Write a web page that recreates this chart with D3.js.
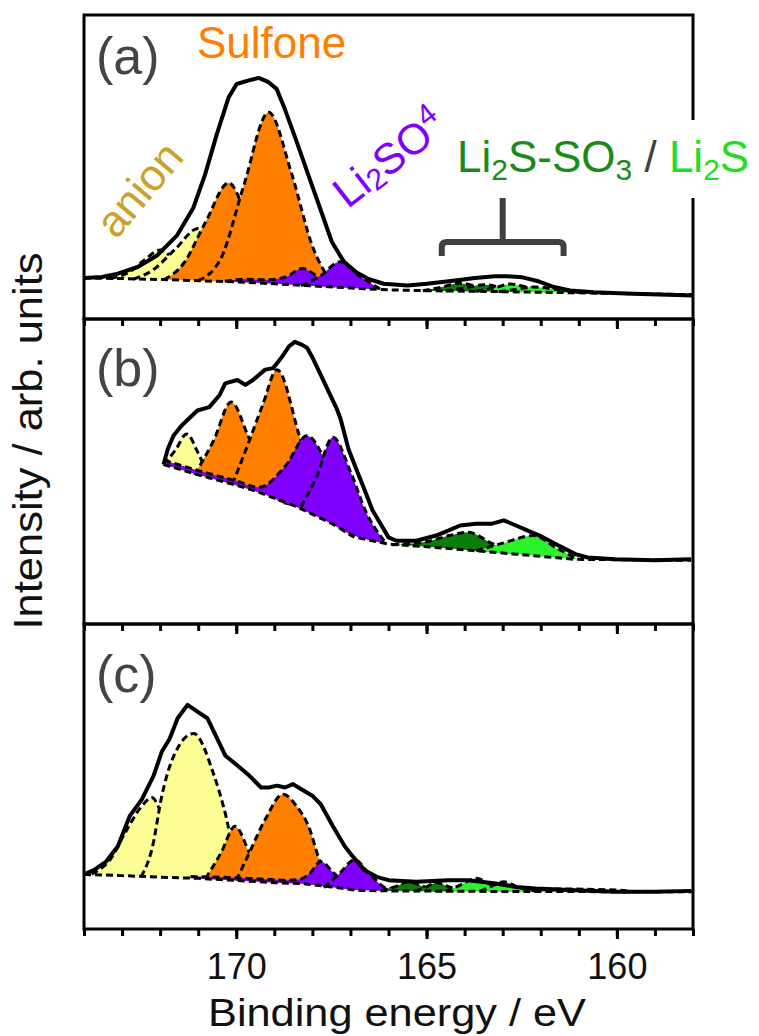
<!DOCTYPE html>
<html>
<head>
<meta charset="utf-8">
<script src="https://cdn.jsdelivr.net/npm/d3@7"></script>
<style>
  body { margin: 0; background: white; }
  svg text { font-family: "Liberation Sans", Arial, sans-serif; }
</style>
</head>
<body>
<svg id="chart" width="759" height="1036"></svg>
<script>
// ---- data (binding energy in eV, intensity in arb. units, 0..100 per panel) ----
var majorTicks = [170, 165, 160];
var minorTicks = d3.range(158, 175, 1);

// panel (a)
var envA = [[174,13.5],[173.53,13.8],[173.11,14.9],[172.59,17.1],[172.07,21.0],[171.55,27.6],[171.13,36.5],[170.82,47.5],[170.51,60.8],[170.2,72.9],[169.99,77.3],[169.67,78.5],[169.41,79.3],[169.15,77.9],[168.94,75.7],[168.74,69.6],[168.42,58.6],[168.11,47.5],[167.8,36.5],[167.49,25.4],[167.17,18.8],[166.86,15.5],[166.55,13.3],[166.13,11.6],[165.5,11.0],[164.99,11.6],[164.25,12.7],[163.73,13.5],[163.21,14.1],[162.9,14.1],[162.48,13.7],[162.06,12.4],[161.65,10.5],[161.23,9.4],[160.61,8.8],[159.57,8.3],[158,7.7]];
var bgA = [[174,13.5],[173,13.3],[172,13.0],[171,12.6],[170,12.2],[169,11.6],[168,10.9],[167,10.2],[166,9.6],[165,9.3],[163,9.0],[161,8.6],[158,8.0]];
var anionA1 = [[173.3,13.3],[172.8,15.5],[172.4,19.5],[172.0,22.7],[171.6,19.0],[171.3,15.0],[171.0,12.6]];
var anionA2 = [[172.7,13.1],[172.2,16.0],[171.6,23.0],[171.0,29.8],[170.5,23.0],[170.1,16.0],[169.8,12.1]];
var sulfA1 = [[171.9,12.9],[171.4,18.0],[170.8,32.0],[170.2,44.8],[169.7,33.0],[169.2,19.0],[168.7,11.3]];
var sulfA2 = [[171.0,12.6],[170.4,20.0],[169.8,44.0],[169.15,68.0],[168.55,48.0],[168.0,24.0],[167.4,10.5]];
var lisoA1 = [[170.3,12.4],[169.8,13.1],[169.2,12.9],[168.7,13.8],[168.27,16.6],[167.8,13.5],[167.3,10.5]];
var lisoA2 = [[168.3,11.0],[167.8,14.0],[167.28,18.8],[166.75,14.0],[166.2,9.7]];
var dgreenA1 = [[165.1,9.3],[164.6,10.5],[164.15,11.8],[163.6,10.5],[163.1,9.1]];
var dgreenA2 = [[164.5,9.2],[164.0,10.2],[163.5,11.3],[163.0,10.2],[162.5,9.0]];
var lgreenA1 = [[163.7,9.1],[163.2,10.3],[162.8,11.5],[162.3,10.3],[161.7,8.8]];
var lgreenA2 = [[163.1,9.0],[162.6,9.8],[162.2,10.5],[161.6,9.8],[161.0,8.7]];

// panel (b)
var envB = [[171.91,52.3],[171.8,57.3],[171.65,61.7],[171.44,65.0],[171.02,70.0],[170.71,71.1],[170.44,75.0],[170.29,78.9],[169.97,80.0],[169.76,78.4],[169.56,80.0],[169.24,83.4],[169.03,83.9],[168.82,87.2],[168.61,91.1],[168.46,92.5],[168.3,91.7],[168.14,90.6],[167.99,87.2],[167.78,81.7],[167.57,76.1],[167.36,70.6],[167.26,67.3],[167.05,57.3],[166.84,50.6],[166.63,44.0],[166.42,37.3],[166.21,32.9],[166.0,28.4],[165.79,27.3],[165.27,27.3],[164.75,29.0],[164.43,30.6],[164.12,32.3],[163.7,32.9],[163.28,32.9],[162.97,34.0],[162.65,32.3],[162.34,30.6],[162.03,29.0],[161.61,26.2],[161.09,22.9],[160.77,21.8],[160.04,21.2],[159.0,20.9],[158.05,21.2]];
var bgB = [[171.91,52.3],[171.0,48.9],[170.0,45.5],[169.45,43.4],[168.4,38.4],[167.5,33.0],[166.84,28.4],[166.0,26.2],[164.75,25.1],[162.65,22.9],[161.1,21.2],[158.05,20.9]];
var anionB1 = [[171.91,52.3],[171.6,57.0],[171.3,62.3],[171.0,56.0],[170.7,47.6]];
var sulfB1 = [[171.1,48.9],[170.6,60.0],[170.13,72.8],[169.7,62.0],[169.3,50.0],[168.9,41.0],[168.6,39.3]];
var sulfB2 = [[170.1,45.8],[169.66,60.0],[169.3,72.0],[168.93,83.4],[168.35,62.0],[167.9,42.0],[167.4,33.0],[166.9,28.5]];
var lisoB1 = [[171.9,53.7],[171.0,50.3],[170.0,46.9],[169.4,44.8],[168.7,52.0],[168.14,61.7],[167.6,52.0],[167.1,38.0],[166.7,28.0]];
var lisoB2 = [[168.3,38.4],[167.9,48.0],[167.46,61.2],[167.0,50.0],[166.6,37.0],[166.1,27.0]];
var dgreenB1 = [[165.9,26.0],[165.0,27.0],[164.4,29.0],[163.91,30.1],[163.3,26.5],[162.65,22.9]];
var lgreenB1 = [[163.7,24.0],[163.0,26.5],[162.18,29.0],[161.6,25.0],[161.03,21.2]];

// panel (c)
var envC = [[173.95,18.2],[173.74,19.3],[173.42,22.1],[173.11,27.1],[172.8,37.0],[172.48,42.5],[172.17,50.3],[171.96,58.0],[171.75,62.4],[171.54,69.1],[171.28,73.5],[171.02,71.3],[170.76,69.1],[170.5,62.4],[170.29,56.9],[169.97,53.6],[169.66,50.3],[169.35,46.4],[169.14,46.4],[168.93,47.0],[168.72,46.4],[168.51,47.5],[168.3,45.9],[167.99,43.6],[167.78,40.9],[167.46,33.7],[167.15,27.1],[166.94,23.8],[166.63,19.3],[166.31,17.1],[166.0,16.0],[165.27,15.5],[164.43,16.0],[163.91,16.0],[163.18,14.9],[162.65,13.8],[162.13,13.3],[161.09,12.7],[160.04,12.2],[159.0,12.2],[158.05,12.5]];
var bgC = [[174,17.9],[173,17.5],[172,17.0],[171,16.6],[170,15.9],[169,15.2],[168.3,14.9],[167.5,13.8],[166.84,12.7],[166,12.5],[163,12.3],[158,12.2]];
var anionC1 = [[173.8,18.0],[173.3,23.0],[172.9,32.0],[172.5,40.0],[172.22,43.1],[171.9,36.0],[171.5,25.0],[171.0,16.6]];
var anionC2 = [[172.5,17.1],[172.2,27.0],[171.95,44.0],[171.7,55.0],[171.12,64.1],[170.6,51.0],[170.29,38.0],[169.97,20.0],[169.8,15.7]];
var sulfC1 = [[170.81,16.5],[170.4,25.0],[170.03,33.7],[169.65,25.0],[169.2,15.3]];
var sulfC2 = [[170.0,15.9],[169.66,24.9],[169.24,35.9],[168.77,44.2],[168.4,40.0],[168.1,33.7],[167.8,22.0],[167.5,14.5]];
var lisoC1 = [[171.2,17.2],[170.2,16.9],[169.2,16.3],[168.6,16.0],[168.3,16.4],[168.05,18.5],[167.78,22.1],[167.45,18.5],[167.0,13.0]];
var lisoC2 = [[167.7,13.6],[167.3,18.0],[166.89,22.7],[166.5,18.0],[166.0,13.3],[164.0,13.0],[161.5,13.1],[160.0,12.8],[159.6,12.2]];
var dgreenC1 = [[166.2,12.5],[165.8,14.0],[165.48,15.5],[165.1,14.0],[164.7,12.4]];
var dgreenC2 = [[165.3,12.4],[165.0,13.8],[164.75,15.2],[164.4,13.8],[164.0,12.3]];
var lgreenC1 = [[164.5,12.3],[164.1,14.5],[163.7,16.6],[163.3,14.5],[162.9,12.3]];
var lgreenC2 = [[163.6,12.3],[163.3,14.0],[162.97,15.5],[162.6,13.8],[162.1,12.3]];

// ---- colours ----
var col = {anion: "#fdfd96", sulf: "#ff8000", liso: "#7f00ff", dgreen: "#0a7d0a", lgreen: "#2cf22c"};

var panels = [
  {name: "(a)", top: 15, bottom: 319, env: envA, bg: bgA, labelY: 74,
   peaks: [[anionA1,"anion"],[anionA2,"anion"],[sulfA1,"sulf"],[sulfA2,"sulf"],[lisoA1,"liso"],[lisoA2,"liso"],
           [dgreenA1,"dgreen"],[dgreenA2,"dgreen"],[lgreenA1,"lgreen"],[lgreenA2,"lgreen"]]},
  {name: "(b)", top: 319, bottom: 624, env: envB, bg: bgB, labelY: 386,
   peaks: [[anionB1,"anion"],[sulfB1,"sulf"],[sulfB2,"sulf"],[lisoB1,"liso"],[lisoB2,"liso"],
           [dgreenB1,"dgreen"],[lgreenB1,"lgreen"]]},
  {name: "(c)", top: 624, bottom: 929, env: envC, bg: bgC, labelY: 692,
   peaks: [[anionC1,"anion"],[anionC2,"anion"],[sulfC1,"sulf"],[sulfC2,"sulf"],[lisoC1,"liso"],[lisoC2,"liso"],
           [dgreenC1,"dgreen"],[dgreenC2,"dgreen"],[lgreenC1,"lgreen"],[lgreenC2,"lgreen"]]}
];

var left = 84, right = 693;
var svg = d3.select("#chart");
var x = d3.scaleLinear().domain([174, 158]).range([left, right]);

panels.forEach(function(p, i) {
  var y = d3.scaleLinear().domain([0, 100]).range([p.bottom, p.top]);
  // background as a piecewise scale so fills can sit on it
  var bgAt = d3.scaleLinear().domain(p.bg.map(function(d) { return d[0]; }))
      .range(p.bg.map(function(d) { return d[1]; })).clamp(true);

  svg.append("clipPath").attr("id", "clip" + i).append("rect")
    .attr("x", left).attr("y", p.top).attr("width", right - left).attr("height", p.bottom - p.top);
  var g = svg.append("g").attr("clip-path", "url(#clip" + i + ")");

  var area = d3.area().x(function(d) { return x(d[0]); })
      .y0(function(d) { return y(bgAt(d[0])); }).y1(function(d) { return y(d[1]); })
      .curve(d3.curveMonotoneX);
  var line = d3.line().x(function(d) { return x(d[0]); }).y(function(d) { return y(d[1]); });

  p.peaks.forEach(function(pk) {
    g.append("path").datum(pk[0]).attr("d", area).attr("fill", col[pk[1]]).attr("stroke", "none");
    g.append("path").datum(pk[0]).attr("d", line.curve(d3.curveMonotoneX))
      .attr("fill", "none").attr("stroke", "#000").attr("stroke-width", 3).attr("stroke-dasharray", "7,4");
  });

  g.append("path").datum(p.bg).attr("d", line.curve(d3.curveLinear))
    .attr("fill", "none").attr("stroke", "#000").attr("stroke-width", 3).attr("stroke-dasharray", "7,4");

  g.append("path").datum(p.env).attr("d", line.curve(d3.curveLinear))
    .attr("fill", "none").attr("stroke", "#000").attr("stroke-width", 4).attr("stroke-linejoin", "round");

  // ticks on the bottom edge of each panel
  var minorAxis = d3.axisBottom(x).tickValues(minorTicks).tickSize(7).tickFormat("");
  var majorAxis = d3.axisBottom(x).tickValues(majorTicks).tickSize(10)
      .tickFormat(i === 2 ? d3.format("d") : "");
  var ga = svg.append("g").attr("transform", "translate(0," + p.bottom + ")").call(minorAxis);
  var gb = svg.append("g").attr("transform", "translate(0," + p.bottom + ")").call(majorAxis);
  [ga, gb].forEach(function(a) {
    a.select(".domain").remove();
    a.selectAll("line").attr("stroke", "#000").attr("stroke-width", 3);
  });
  gb.selectAll("text").attr("font-size", 36).attr("fill", "#111").attr("y", 50).attr("dy", 0);

  svg.append("rect").attr("x", left).attr("y", p.top).attr("width", right - left).attr("height", p.bottom - p.top)
    .attr("fill", "none").attr("stroke", "#000").attr("stroke-width", 3);

  svg.append("text").attr("x", 96).attr("y", p.labelY).attr("font-size", 52).attr("fill", "#444").text(p.name);
});

// axis titles
svg.append("text").attr("x", 397).attr("y", 1026).attr("text-anchor", "middle")
  .attr("font-size", 39).attr("textLength", 378).attr("lengthAdjust", "spacingAndGlyphs")
  .attr("fill", "#111").text("Binding energy / eV");
svg.append("text").attr("transform", "translate(42,441) rotate(-90)").attr("text-anchor", "middle")
  .attr("font-size", 41).attr("textLength", 377).attr("lengthAdjust", "spacingAndGlyphs")
  .attr("fill", "#111").text("Intensity / arb. units");

// annotations, panel (a)
svg.append("text").attr("x", 197).attr("y", 58).attr("font-size", 44).attr("fill", "#ff8000").text("Sulfone");
svg.append("text").attr("transform", "translate(139,189) rotate(-50)").attr("text-anchor", "middle")
  .attr("dominant-baseline", "central").attr("font-size", 44).attr("fill", "#c9a227").text("anion");

var liso = svg.append("text").attr("transform", "translate(389,158) rotate(-38)").attr("text-anchor", "middle")
  .attr("dominant-baseline", "central").attr("font-size", 43).attr("fill", "#8000ff");
liso.append("tspan").text("Li");
liso.append("tspan").attr("font-size", 30).attr("dy", 8).text("2");
liso.append("tspan").attr("dy", -8).text("SO");
liso.append("tspan").attr("font-size", 30).attr("dy", -12).text("4");

svg.append("rect").attr("x", 450).attr("y", 120).attr("width", 309).attr("height", 78).attr("fill", "white");
var lab = svg.append("text").attr("x", 457).attr("y", 172).attr("font-size", 44);
lab.append("tspan").attr("fill", "#1a8a1a").text("Li");
lab.append("tspan").attr("fill", "#1a8a1a").attr("font-size", 30).attr("dy", 8).text("2");
lab.append("tspan").attr("fill", "#1a8a1a").attr("dy", -8).text("S-SO");
lab.append("tspan").attr("fill", "#1a8a1a").attr("font-size", 30).attr("dy", 8).text("3");
lab.append("tspan").attr("fill", "#404040").attr("dy", -8).text(" / ");
lab.append("tspan").attr("fill", "#22dd22").text("Li");
lab.append("tspan").attr("fill", "#22dd22").attr("font-size", 30).attr("dy", 8).text("2");
lab.append("tspan").attr("fill", "#22dd22").attr("dy", -8).text("S");

// bracket over the sulfide region
var bx0 = x(164.6), bx1 = x(161.4), bxm = x(163.0);
svg.append("path")
  .attr("d", "M" + bx0 + ",256 L" + bx0 + ",247 Q" + bx0 + ",242 " + (bx0 + 5) + ",242 L" + (bx1 - 5) + ",242 Q" + bx1 + ",242 " + bx1 + ",247 L" + bx1 + ",256 M" + bxm + ",242 L" + bxm + ",198")
  .attr("fill", "none").attr("stroke", "#404040").attr("stroke-width", 6);
</script>
</body>
</html>
